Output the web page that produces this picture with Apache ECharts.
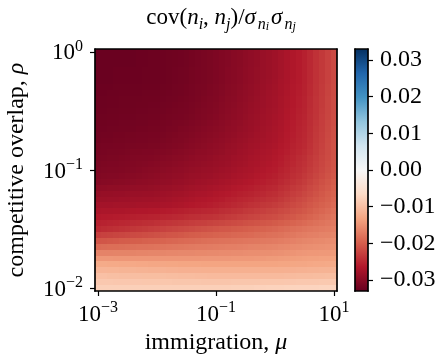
<!DOCTYPE html>
<html>
<head>
<meta charset="utf-8">
<script src="https://cdn.jsdelivr.net/npm/echarts@6/dist/echarts.min.js"></script>
<style>
  html, body { margin: 0; padding: 0; background: #fff; }
  #chart { width: 444px; height: 354px; }
</style>
</head>
<body>
<div id="chart"></div>
<script>
// Grid coordinates (cell centres) as base-10 exponents.
const log10Mu = [-3.0, -2.9, -2.8, -2.7, -2.6, -2.5, -2.4, -2.3, -2.2, -2.1,
  -2.0, -1.9, -1.8, -1.7, -1.6, -1.5, -1.4, -1.3, -1.2, -1.1,
  -1.0, -0.9, -0.8, -0.7, -0.6, -0.5, -0.4, -0.3, -0.2, -0.1,
  0.0, 0.1, 0.2, 0.3, 0.4, 0.5, 0.6, 0.7, 0.8, 0.9, 1.0];
const log10Rho = [-2.0, -1.95, -1.9, -1.85, -1.8, -1.75, -1.7, -1.65, -1.6, -1.55,
  -1.5, -1.45, -1.4, -1.35, -1.3, -1.25, -1.2, -1.15, -1.1, -1.05,
  -1.0, -0.95, -0.9, -0.85, -0.8, -0.75, -0.7, -0.65, -0.6, -0.55,
  -0.5, -0.45, -0.4, -0.35, -0.3, -0.25, -0.2, -0.15, -0.1, -0.05, 0.0];

// Correlation cov(n_i,n_j)/(sigma_i sigma_j), in units of 1e-4.
// One row per rho (bottom to top), one column per mu (left to right).
const corrE4 = [
  [-79,-79,-79,-79,-79,-79,-79,-79,-79,-79,-79,-79,-79,-79,-79,-79,-79,-79,-79,-79,-79,-79,-79,-78,-78,-78,-78,-77,-77,-76,-76,-76,-75,-75,-74,-74,-74,-74,-73,-73,-73],
  [-89,-89,-89,-90,-90,-90,-90,-90,-91,-91,-91,-91,-91,-92,-92,-92,-92,-92,-93,-93,-93,-93,-93,-92,-92,-92,-92,-92,-91,-91,-91,-91,-90,-90,-89,-89,-89,-89,-88,-88,-88],
  [-99,-99,-100,-100,-101,-101,-101,-101,-102,-102,-102,-102,-103,-103,-104,-104,-104,-105,-105,-106,-106,-106,-106,-106,-106,-106,-106,-106,-106,-106,-106,-106,-105,-105,-104,-104,-104,-103,-103,-102,-102],
  [-112,-112,-113,-113,-114,-114,-114,-115,-115,-116,-116,-116,-117,-117,-118,-118,-118,-118,-119,-119,-119,-119,-119,-119,-119,-119,-119,-119,-119,-119,-119,-119,-118,-118,-117,-117,-116,-116,-115,-115,-114],
  [-125,-125,-126,-126,-127,-127,-127,-128,-128,-129,-129,-129,-130,-130,-131,-131,-131,-131,-132,-132,-132,-132,-132,-132,-132,-132,-132,-132,-132,-132,-132,-131,-131,-130,-129,-129,-128,-127,-127,-126,-125],
  [-145,-145,-145,-146,-146,-146,-146,-146,-146,-146,-146,-146,-146,-146,-146,-146,-146,-146,-145,-145,-145,-145,-145,-144,-144,-144,-144,-143,-143,-142,-142,-141,-140,-139,-138,-137,-136,-136,-135,-135,-134],
  [-165,-165,-165,-164,-164,-164,-164,-163,-163,-162,-162,-162,-161,-161,-160,-160,-160,-159,-159,-158,-158,-157,-157,-156,-156,-155,-154,-154,-153,-153,-152,-151,-149,-148,-146,-145,-144,-144,-143,-143,-142],
  [-187,-186,-185,-185,-184,-183,-182,-181,-181,-180,-179,-178,-177,-176,-175,-174,-173,-172,-172,-171,-170,-169,-168,-168,-167,-166,-165,-164,-164,-163,-162,-160,-159,-157,-156,-154,-153,-152,-151,-150,-149],
  [-208,-207,-205,-204,-202,-201,-200,-199,-197,-196,-195,-194,-192,-191,-189,-188,-187,-186,-184,-183,-182,-181,-180,-179,-178,-177,-176,-175,-174,-173,-172,-170,-168,-166,-164,-162,-161,-159,-158,-156,-155],
  [-228,-226,-225,-223,-222,-220,-218,-217,-215,-214,-212,-210,-208,-207,-205,-203,-201,-200,-198,-197,-195,-194,-193,-191,-190,-189,-188,-186,-185,-183,-182,-180,-177,-175,-172,-170,-168,-167,-165,-164,-162],
  [-248,-246,-244,-242,-240,-238,-236,-234,-232,-230,-228,-226,-224,-222,-220,-218,-216,-214,-212,-210,-208,-206,-205,-203,-202,-200,-198,-196,-195,-193,-191,-188,-186,-183,-181,-178,-176,-174,-172,-170,-168],
  [-256,-255,-253,-252,-250,-249,-247,-246,-244,-243,-241,-239,-237,-236,-234,-232,-230,-228,-227,-225,-223,-221,-219,-217,-215,-213,-211,-209,-207,-205,-203,-200,-197,-194,-191,-188,-185,-182,-179,-176,-173],
  [-264,-263,-262,-261,-260,-259,-258,-257,-256,-255,-254,-252,-251,-249,-248,-246,-244,-243,-241,-240,-238,-236,-233,-231,-228,-226,-224,-222,-219,-217,-215,-212,-208,-205,-201,-198,-194,-190,-186,-182,-178],
  [-271,-270,-270,-269,-269,-268,-267,-266,-266,-265,-264,-262,-261,-259,-258,-256,-254,-253,-251,-250,-248,-245,-243,-240,-238,-235,-233,-230,-228,-225,-223,-219,-216,-212,-209,-205,-201,-196,-192,-187,-183],
  [-277,-277,-277,-276,-276,-276,-276,-275,-275,-274,-274,-272,-271,-269,-268,-266,-264,-262,-261,-259,-257,-254,-252,-249,-247,-244,-241,-239,-236,-234,-231,-227,-223,-219,-215,-211,-206,-202,-197,-193,-188],
  [-284,-284,-283,-283,-282,-282,-281,-281,-280,-280,-279,-277,-276,-274,-273,-271,-269,-267,-266,-264,-262,-260,-257,-255,-252,-250,-248,-245,-243,-240,-238,-234,-229,-225,-220,-216,-211,-206,-202,-197,-192],
  [-290,-289,-289,-288,-288,-287,-286,-286,-285,-285,-284,-282,-281,-279,-278,-276,-274,-272,-271,-269,-267,-265,-263,-260,-258,-256,-254,-251,-249,-246,-244,-239,-235,-230,-226,-221,-216,-211,-205,-200,-195],
  [-297,-296,-295,-295,-294,-293,-292,-291,-291,-290,-289,-287,-286,-284,-283,-281,-279,-277,-276,-274,-272,-270,-268,-265,-263,-261,-259,-256,-254,-251,-249,-244,-240,-235,-231,-226,-220,-215,-209,-204,-198],
  [-304,-303,-302,-301,-300,-299,-298,-297,-296,-295,-294,-292,-291,-289,-288,-286,-284,-282,-281,-279,-277,-275,-273,-270,-268,-266,-264,-261,-259,-256,-254,-249,-245,-240,-236,-231,-225,-219,-213,-207,-201],
  [-307,-306,-305,-305,-304,-303,-302,-301,-299,-298,-297,-295,-294,-292,-291,-289,-287,-286,-284,-283,-281,-279,-277,-274,-272,-270,-268,-265,-263,-260,-258,-253,-249,-244,-240,-235,-229,-223,-217,-211,-205],
  [-310,-309,-308,-308,-307,-306,-305,-304,-302,-301,-300,-298,-297,-295,-294,-292,-290,-289,-287,-286,-284,-282,-280,-277,-275,-273,-271,-268,-266,-263,-261,-256,-252,-247,-243,-238,-232,-226,-220,-214,-208],
  [-312,-311,-310,-310,-309,-308,-307,-306,-305,-304,-303,-301,-300,-298,-297,-295,-293,-292,-290,-289,-287,-285,-283,-280,-278,-276,-273,-271,-268,-266,-263,-259,-254,-250,-245,-241,-235,-228,-222,-215,-209],
  [-314,-313,-312,-312,-311,-310,-309,-308,-308,-307,-306,-304,-303,-301,-300,-298,-296,-294,-293,-291,-289,-287,-285,-282,-280,-278,-275,-273,-270,-268,-265,-261,-256,-252,-247,-243,-236,-230,-223,-217,-210],
  [-316,-315,-314,-314,-313,-312,-311,-311,-310,-310,-309,-307,-306,-304,-303,-301,-299,-297,-296,-294,-292,-290,-287,-285,-282,-280,-277,-275,-272,-270,-267,-263,-259,-254,-250,-246,-239,-232,-225,-218,-211],
  [-317,-316,-316,-315,-315,-314,-314,-313,-313,-312,-312,-310,-309,-307,-306,-304,-302,-300,-298,-296,-294,-292,-289,-287,-284,-282,-279,-277,-274,-272,-269,-265,-261,-256,-252,-248,-241,-233,-226,-218,-211],
  [-319,-318,-318,-317,-317,-316,-316,-315,-315,-314,-314,-312,-311,-309,-308,-306,-304,-302,-300,-298,-296,-294,-291,-289,-286,-284,-281,-279,-276,-274,-271,-267,-262,-258,-253,-249,-242,-234,-227,-219,-212],
  [-320,-319,-319,-318,-318,-317,-317,-316,-316,-315,-315,-314,-312,-311,-309,-308,-306,-304,-302,-300,-298,-296,-293,-291,-288,-286,-283,-280,-278,-275,-272,-268,-263,-259,-254,-250,-243,-235,-228,-220,-213],
  [-321,-321,-320,-320,-319,-319,-319,-318,-318,-317,-317,-316,-314,-313,-311,-310,-308,-306,-304,-302,-300,-298,-295,-293,-290,-288,-285,-282,-279,-276,-273,-269,-264,-260,-255,-251,-244,-236,-229,-221,-214],
  [-322,-322,-321,-321,-320,-320,-320,-319,-319,-318,-318,-317,-316,-314,-313,-312,-310,-308,-306,-304,-302,-299,-297,-294,-292,-289,-286,-283,-280,-277,-274,-270,-265,-261,-256,-252,-245,-237,-230,-222,-215],
  [-323,-323,-322,-322,-321,-321,-321,-320,-320,-319,-319,-318,-317,-316,-315,-314,-312,-310,-308,-306,-304,-301,-298,-296,-293,-290,-287,-284,-281,-278,-275,-271,-266,-262,-257,-253,-245,-238,-230,-223,-215],
  [-324,-324,-323,-323,-322,-322,-322,-321,-321,-320,-320,-319,-318,-317,-316,-315,-313,-311,-309,-307,-305,-302,-299,-297,-294,-291,-288,-285,-282,-279,-276,-272,-267,-263,-258,-254,-246,-239,-231,-224,-216],
  [-325,-325,-324,-324,-323,-323,-323,-322,-322,-321,-321,-320,-319,-318,-317,-316,-314,-312,-310,-308,-306,-303,-300,-298,-295,-292,-289,-286,-283,-280,-277,-273,-268,-264,-259,-255,-247,-239,-232,-224,-216],
  [-325,-325,-324,-324,-323,-323,-323,-323,-322,-322,-322,-321,-320,-319,-318,-317,-315,-313,-311,-309,-307,-304,-301,-299,-296,-293,-290,-287,-283,-280,-277,-273,-268,-264,-259,-255,-247,-239,-232,-224,-216],
  [-326,-326,-325,-325,-324,-324,-324,-324,-323,-323,-323,-322,-321,-320,-319,-318,-316,-314,-312,-310,-308,-305,-302,-300,-297,-294,-291,-288,-284,-281,-278,-274,-269,-265,-260,-256,-248,-240,-233,-225,-217],
  [-326,-326,-326,-325,-325,-325,-325,-325,-324,-324,-324,-323,-322,-320,-319,-318,-316,-314,-313,-311,-309,-306,-303,-301,-298,-295,-292,-289,-285,-282,-279,-274,-270,-265,-261,-256,-248,-240,-233,-225,-217],
  [-327,-327,-327,-326,-326,-326,-326,-326,-325,-325,-325,-324,-323,-321,-320,-319,-317,-315,-314,-312,-310,-307,-304,-302,-299,-296,-293,-290,-286,-283,-280,-275,-271,-266,-262,-257,-249,-241,-234,-226,-218],
  [-327,-327,-327,-326,-326,-326,-326,-326,-325,-325,-325,-324,-323,-321,-320,-319,-317,-315,-314,-312,-310,-307,-304,-302,-299,-296,-293,-290,-287,-284,-281,-276,-271,-267,-262,-257,-249,-241,-234,-226,-218],
  [-327,-327,-327,-326,-326,-326,-326,-326,-325,-325,-325,-324,-323,-321,-320,-319,-317,-315,-314,-312,-310,-307,-304,-302,-299,-296,-293,-290,-287,-284,-281,-276,-271,-267,-262,-257,-249,-241,-234,-226,-218],
  [-327,-327,-327,-327,-327,-327,-327,-326,-326,-325,-325,-324,-323,-322,-321,-320,-318,-316,-314,-312,-310,-307,-305,-302,-300,-297,-294,-291,-287,-284,-281,-276,-271,-267,-262,-257,-249,-241,-234,-226,-218],
  [-327,-327,-327,-327,-327,-327,-327,-326,-326,-325,-325,-324,-323,-322,-321,-320,-318,-316,-314,-312,-310,-307,-305,-302,-300,-297,-294,-291,-287,-284,-281,-276,-271,-267,-262,-257,-249,-241,-234,-226,-218],
  [-327,-327,-327,-327,-327,-327,-327,-326,-326,-325,-325,-324,-323,-322,-321,-320,-318,-316,-314,-312,-310,-307,-305,-302,-300,-297,-294,-291,-287,-284,-281,-276,-271,-267,-262,-257,-249,-241,-234,-226,-218]
];
const CORR_UNIT = 1e-4;

// Tick positions (exponents) and colour-bar ticks.
const muTicks = [-3, -1, 1];
const rhoTicks = [-2, -1, 0];
const cbarTicks = [-0.03, -0.02, -0.01, 0.0, 0.01, 0.02, 0.03];
const cbarMin = -0.033, cbarMax = 0.033;

// Diverging red-blue colour map, low to high.
const RDBU = ['#67001f', '#b2182b', '#d6604d', '#f4a582', '#fddbc7', '#f7f7f7',
              '#d1e5f0', '#92c5de', '#4393c3', '#2166ac', '#053061'];

const FONT = '"Liberation Serif", "DejaVu Serif", serif';
const INK = '#000';

// Half the spacing between neighbouring cell centres.
const HALF_DX = (log10Mu[1] - log10Mu[0]) / 2;
const HALF_DY = (log10Rho[1] - log10Rho[0]) / 2;

const cells = [];
log10Rho.forEach((r, j) => {
  log10Mu.forEach((m, i) => {
    cells.push([m, r, corrE4[j][i] * CORR_UNIT]);
  });
});

// "10" with a raised exponent: the base sits at the bottom of the line box,
// the exponent at its top.
function powerLabel(v) {
  const e = Math.round(v);
  return '{b|10}{s|' + (e < 0 ? '\u2212' + (-e) : String(e)) + '}';
}
const powerRich = {
  b: { fontFamily: FONT, fontSize: 23, color: INK, lineHeight: 26, verticalAlign: 'bottom' },
  s: { fontFamily: FONT, fontSize: 16, color: INK, lineHeight: 16, verticalAlign: 'top' }
};
const frameLine = { show: true, onZero: false, lineStyle: { color: INK, width: 1.7 } };
const tickStyle = { color: INK, width: 1.2 };
const mathText = {
  t: { fontFamily: FONT, fontSize: 24, color: INK, lineHeight: 24 },
  m: { fontFamily: FONT, fontSize: 24, color: INK, fontStyle: 'italic', lineHeight: 24 }
};
// Title: main symbols hang from the top of the line box, subscripts rest on its bottom.
const titleTop = { fontFamily: FONT, fontWeight: 'normal', color: INK, verticalAlign: 'top', fontSize: 23, lineHeight: 23 };
const titleSub = { fontFamily: FONT, fontWeight: 'normal', color: INK, verticalAlign: 'bottom', fontStyle: 'italic', lineHeight: 27 };

const chart = echarts.init(document.getElementById('chart'), null, { renderer: 'canvas' });
chart.setOption({
  animation: false,
  backgroundColor: '#fff',
  title: {
    text: '{r|cov(}{i|n}{sb|i}{r|, }{i|n}{sb|j}{r|)/}{i|σ\u200a}{sb|n}{ss|i}{i|\u200aσ\u200a}{sb|n}{ss|j}',
    left: 216,
    textAlign: 'center',
    top: 1,
    textStyle: {
      fontWeight: 'normal',
      rich: {
        r: Object.assign({}, titleTop),
        i: Object.assign({ fontStyle: 'italic' }, titleTop),
        sb: Object.assign({ fontSize: 16 }, titleSub),
        ss: Object.assign({ fontSize: 12 }, titleSub)
      }
    }
  },
  grid: [
    { left: 95, top: 49, width: 242, height: 242, outerBoundsMode: 'none' },
    { left: 355, top: 49, width: 13, height: 242, outerBoundsMode: 'none' }
  ],
  visualMap: {
    type: 'continuous', show: false, seriesIndex: 0, dimension: 2,
    min: cbarMin, max: cbarMax, inRange: { color: RDBU }
  },
  xAxis: [
    {
      gridIndex: 0, type: 'value', min: log10Mu[0] - HALF_DX, max: log10Mu[log10Mu.length - 1] + HALF_DX,
      position: 'bottom', z: 5,
      axisLine: frameLine,
      axisTick: { show: true, length: 5, lineStyle: tickStyle, customValues: muTicks },
      axisLabel: { customValues: muTicks, formatter: powerLabel, rich: powerRich, margin: 9 },
      splitLine: { show: false },
      name: '{t|immigration, }{m|μ}', nameLocation: 'middle', nameGap: 33,
      nameTextStyle: { rich: mathText }
    },
    {
      gridIndex: 0, type: 'value', min: log10Mu[0] - HALF_DX, max: log10Mu[log10Mu.length - 1] + HALF_DX,
      position: 'top', z: 5, axisLine: frameLine,
      axisTick: { show: false }, axisLabel: { show: false }, splitLine: { show: false }
    },
    {
      gridIndex: 1, type: 'value', min: 0, max: 1, position: 'bottom', z: 5, axisLine: frameLine,
      axisTick: { show: false }, axisLabel: { show: false }, splitLine: { show: false }
    },
    {
      gridIndex: 1, type: 'value', min: 0, max: 1, position: 'top', z: 5, axisLine: frameLine,
      axisTick: { show: false }, axisLabel: { show: false }, splitLine: { show: false }
    }
  ],
  yAxis: [
    {
      gridIndex: 0, type: 'value', min: log10Rho[0] - HALF_DY, max: log10Rho[log10Rho.length - 1] + HALF_DY,
      position: 'left', z: 5,
      axisLine: frameLine,
      axisTick: { show: true, length: 5, lineStyle: tickStyle, customValues: rhoTicks },
      axisLabel: { customValues: rhoTicks, formatter: powerLabel, rich: powerRich, margin: 12 },
      splitLine: { show: false },
      name: '{t|competitive overlap, }{m|ρ}', nameLocation: 'middle', nameGap: 66,
      nameTextStyle: { rich: mathText }
    },
    {
      gridIndex: 0, type: 'value', min: log10Rho[0] - HALF_DY, max: log10Rho[log10Rho.length - 1] + HALF_DY,
      position: 'right', z: 5, axisLine: frameLine,
      axisTick: { show: false }, axisLabel: { show: false }, splitLine: { show: false }
    },
    {
      gridIndex: 1, type: 'value', min: cbarMin, max: cbarMax, position: 'left', z: 5, axisLine: frameLine,
      axisTick: { show: false }, axisLabel: { show: false }, splitLine: { show: false }
    },
    {
      gridIndex: 1, type: 'value', min: cbarMin, max: cbarMax, position: 'right', z: 5, axisLine: frameLine,
      axisTick: { show: true, length: 5, lineStyle: tickStyle, customValues: cbarTicks },
      axisLabel: {
        customValues: cbarTicks, margin: 12, color: INK, fontFamily: FONT, fontSize: 24,
        formatter: v => (v < 0 ? '\u2212' : '') + Math.abs(v).toFixed(2)
      },
      splitLine: { show: false }
    }
  ],
  series: [
    {
      type: 'custom', xAxisIndex: 0, yAxisIndex: 0, data: cells, encode: { x: 0, y: 1 },
      progressive: 0, silent: true,
      renderItem(params, api) {
        const x = api.value(0), y = api.value(1);
        const p0 = api.coord([x - HALF_DX, y + HALF_DY]);
        const p1 = api.coord([x + HALF_DX, y - HALF_DY]);
        // snap to whole pixels so neighbouring cells meet without seams
        const x0 = Math.round(p0[0]), y0 = Math.round(p0[1]);
        const x1 = Math.round(p1[0]), y1 = Math.round(p1[1]);
        return {
          type: 'rect',
          shape: { x: x0, y: y0, width: x1 - x0, height: y1 - y0 },
          style: { fill: api.visual('color') }
        };
      }
    },
    {
      type: 'custom', xAxisIndex: 2, yAxisIndex: 2, data: [[0, cbarMin], [1, cbarMax]],
      silent: true,
      renderItem(params, api) {
        if (params.dataIndex !== 0) return null;
        const p0 = api.coord([0, cbarMax]);
        const p1 = api.coord([1, cbarMin]);
        return {
          type: 'rect',
          shape: { x: p0[0], y: p0[1], width: p1[0] - p0[0], height: p1[1] - p0[1] },
          style: {
            fill: {
              type: 'linear', x: 0, y: 1, x2: 0, y2: 0,
              colorStops: RDBU.map((c, k) => ({ offset: k / (RDBU.length - 1), color: c }))
            }
          }
        };
      }
    }
  ]
});
</script>
</body>
</html>
